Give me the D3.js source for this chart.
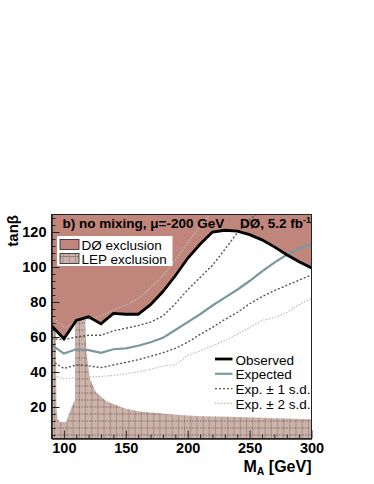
<!DOCTYPE html>
<html>
<head>
<meta charset="utf-8">
<script src="https://cdn.jsdelivr.net/npm/d3@7"></script>
<style>
  html, body { margin: 0; padding: 0; background: #fff; }
  svg { display: block; }
  text { font-family: "Liberation Sans", Arial, Helvetica, sans-serif; }
</style>
</head>
<body>
<svg id="chart" width="374" height="484"></svg>
<script>
// ---------------- data ----------------
const masses   = [90,100,110,120,130,140,150,160,170,180,190,200,210,220,230,240,250,260,270,280,290,300];
const observed = [66.5,59,69.5,71.5,67.5,73.5,73,73,78.5,86,95,105,113,120,121,120.5,118.5,115.5,111.5,107,103,99.5];
const expected = [55.5,50.5,53,52.5,51,53,53.5,55,57,59.5,64,68.5,73,78,82.5,87,92,97.5,102.5,107,110.5,113];
const upper1   = [59,58.5,60,61,61,63.5,65,66.5,68.5,72,79,87,94,101,110,119.5,127,133,null,null,null,null];
const lower1   = [46.5,42,44,43.5,42.5,44,45.5,47,49,51,53.5,57,61.5,65.5,70,74,79,83,86.5,89.5,92.5,95.5];
const upper2   = [72,65.5,68,70,72,75.5,78,82,88,95,104,114,123,132,null,null,null,null,null,null,null,null];
const lower2   = [38.5,36,37,37,37.5,38,39,40,41.5,43.5,44,49.5,52,55,58,61.5,65.5,69.5,71,74,78.5,82];
const lepMass  = [90,90,93.5,94,95,97,102,104,107.5,109,109,117,117.5,118.5,121,126,134,148,161,188,210,234,260,300,300];
const lepTanb  = [2,76,76,20,13,11.5,11.5,16,22,24,76,76,60,50,36,28.5,23.5,19.5,17.5,15.7,14.7,14.5,13.8,13,2];
const xTicks   = [100,150,200,250,300];
const yTicks   = [20,40,60,80,100,120];
const legendTop    = ["DØ exclusion","LEP exclusion"];
const legendBottom = ["Observed","Expected","Exp. ± 1 s.d.","Exp. ± 2 s.d."];

// ---------------- layout ----------------
const L = 51.5, R = 311.5, T = 214.5, B = 438.5;
const x = d3.scaleLinear().domain([90,300]).range([L,R]);
const y = d3.scaleLinear().domain([2,130]).range([B,T]);

const C = {
  d0: "#c0867b",
  lep: "#c9b3ab",
  lepLine: "#8f6459",
  exp: "#7b98a0",
  s1: "#555555",
  s2: "#bdbdbd"
};

const svg = d3.select("#chart");
svg.append("rect").attr("width",374).attr("height",484).attr("fill","#fff");
const defs = svg.append("defs");
defs.append("clipPath").attr("id","plotClip").append("rect")
  .attr("x",L).attr("y",T).attr("width",R-L).attr("height",B-T);

const lepPts = lepMass.map((m,i)=>[m,lepTanb[i]]);
const lepPathGen = d3.line().x(d=>x(d[0])).y(d=>y(d[1]));
defs.append("clipPath").attr("id","lepClip").append("path")
  .attr("d", lepPathGen(lepPts)+"Z");

// hatch pattern for legend swatch
const pat = defs.append("pattern").attr("id","lepPat").attr("patternUnits","userSpaceOnUse")
  .attr("width",6.2).attr("height",7).attr("x",60).attr("y",253);
pat.append("rect").attr("width",6.2).attr("height",7).attr("fill",C.lep);
pat.append("line").attr("x1",3).attr("x2",3).attr("y1",0).attr("y2",7).attr("stroke",C.lepLine).attr("stroke-width",0.7).attr("opacity",0.7);
pat.append("line").attr("x1",0).attr("x2",6.2).attr("y1",3.5).attr("y2",3.5).attr("stroke","#5a3e38").attr("stroke-width",0.7).attr("stroke-dasharray","1.2,1");

const plot = svg.append("g").attr("clip-path","url(#plotClip)");

// LEP exclusion
plot.append("path").attr("d", lepPathGen(lepPts)+"Z").attr("fill",C.lep);
const hatch = plot.append("g").attr("clip-path","url(#lepClip)");
hatch.selectAll("line.v").data(d3.range(92.5,300,5)).join("line")
  .attr("x1",d=>x(d)).attr("x2",d=>x(d)).attr("y1",T).attr("y2",B)
  .attr("stroke",C.lepLine).attr("stroke-width",0.8).attr("opacity",0.6);
hatch.selectAll("line.h").data(d3.range(4,80,4)).join("line")
  .attr("x1",L).attr("x2",R).attr("y1",d=>y(d)).attr("y2",d=>y(d))
  .attr("stroke","#5a3e38").attr("stroke-width",0.8).attr("stroke-dasharray","1.5,1.2").attr("opacity",0.75);

// DØ exclusion
const obsPts = masses.map((m,i)=>[m,observed[i]]);
plot.append("path")
  .attr("d", d3.area().x(d=>x(d[0])).y0(y(130)).y1(d=>y(d[1]))(obsPts))
  .attr("fill",C.d0);

// lines
function series(vals){ return masses.map((m,i)=>[m,vals[i]]); }
const lineGen = d3.line().defined(d=>d[1]!==null).x(d=>x(d[0])).y(d=>y(d[1]));
plot.append("path").attr("d",lineGen(series(upper2))).attr("fill","none").attr("stroke",C.s2).attr("stroke-width",1.2).attr("stroke-dasharray","1.5,1.5");
plot.append("path").attr("d",lineGen(series(lower2))).attr("fill","none").attr("stroke",C.s2).attr("stroke-width",1.2).attr("stroke-dasharray","1.5,1.5");
plot.append("path").attr("d",lineGen(series(upper1))).attr("fill","none").attr("stroke",C.s1).attr("stroke-width",1.4).attr("stroke-dasharray","2,2");
plot.append("path").attr("d",lineGen(series(lower1))).attr("fill","none").attr("stroke",C.s1).attr("stroke-width",1.4).attr("stroke-dasharray","2,2");
plot.append("path").attr("d",lineGen(series(expected))).attr("fill","none").attr("stroke",C.exp).attr("stroke-width",2.2);
plot.append("path").attr("d",lineGen(obsPts)).attr("fill","none").attr("stroke","#000").attr("stroke-width",2.8).attr("stroke-linejoin","miter");

// frame
svg.append("rect").attr("x",L).attr("y",T).attr("width",R-L).attr("height",B-T)
  .attr("fill","none").attr("stroke","#222").attr("stroke-width",1);

// axes
const fontAx = "bold 14.5px 'Liberation Sans', Arial, sans-serif";
const yAxis = svg.append("g").attr("transform",`translate(${L},0)`)
  .call(d3.axisLeft(y).tickValues(yTicks).tickSizeInner(-8).tickSizeOuter(0).tickPadding(5).tickFormat(d3.format("d")));
const yMinor = svg.append("g").attr("transform",`translate(${L},0)`)
  .call(d3.axisLeft(y).tickValues(d3.range(4,130,4).filter(v=>v%20!==0)).tickSizeInner(-4).tickSizeOuter(0).tickFormat(""));
const xAxis = svg.append("g").attr("transform",`translate(0,${B})`)
  .call(d3.axisBottom(x).tickValues(xTicks).tickSizeInner(-8).tickSizeOuter(0).tickPadding(4).tickFormat(d3.format("d")));
const xMinor = svg.append("g").attr("transform",`translate(0,${B})`)
  .call(d3.axisBottom(x).tickValues(d3.range(90,300,10).filter(v=>v%50!==0)).tickSizeInner(-4).tickSizeOuter(0).tickFormat(""));
[yAxis,yMinor,xAxis,xMinor].forEach(g=>{
  g.select(".domain").attr("stroke","#222");
  g.selectAll(".tick line").attr("stroke","#222");
  g.selectAll("text").style("font",fontAx).attr("fill","#000");
});

// axis titles
svg.append("text").attr("transform","translate(18,215) rotate(-90)")
  .attr("text-anchor","end").style("font","bold 15px 'Liberation Sans', Arial, sans-serif").text("tanβ");
const xt = svg.append("text").attr("x",R).attr("y",471.5).attr("text-anchor","end")
  .style("font","bold 16px 'Liberation Sans', Arial, sans-serif");
xt.append("tspan").text("M");
xt.append("tspan").attr("font-size","10.5px").attr("dy",3.5).text("A");
xt.append("tspan").attr("dy",-3.5).text(" [GeV]");

// header texts
svg.append("text").attr("x",62.5).attr("y",228)
  .style("font","bold 13.5px 'Liberation Sans', Arial, sans-serif").text("b) no mixing, μ=-200 GeV");
const d0t = svg.append("text").attr("x",R-0.5).attr("y",228).attr("text-anchor","end")
  .style("font","bold 13.5px 'Liberation Sans', Arial, sans-serif");
d0t.append("tspan").text("DØ, 5.2 fb");
d0t.append("tspan").attr("font-size","9px").attr("dy",-5.5).text("-1");

// top-left legend
svg.append("rect").attr("x",57).attr("y",236).attr("width",115.5).attr("height",30).attr("fill","#fff");
svg.append("rect").attr("x",60).attr("y",239.5).attr("width",19).attr("height",10).attr("fill",C.d0).attr("stroke","#222").attr("stroke-width",0.8);
svg.append("rect").attr("x",60).attr("y",253.5).attr("width",19).attr("height",10).attr("fill","url(#lepPat)").attr("stroke","#222").attr("stroke-width",0.8);
svg.selectAll("text.lt").data(legendTop).join("text").attr("class","lt")
  .attr("x",81.5).attr("y",(d,i)=>249.5+i*14.5)
  .style("font","13.5px 'Liberation Sans', Arial, sans-serif").text(d=>d);

// bottom-right legend
const styles = [
  {c:"#000", w:2.8, da:null},
  {c:C.exp, w:2.2, da:null},
  {c:C.s1, w:1.4, da:"2,2"},
  {c:C.s2, w:1.2, da:"1.5,1.5"}
];
const lg = svg.append("g");
legendBottom.forEach((t,i)=>{
  const yy = 359 + i*14.8;
  lg.append("line").attr("x1",215).attr("x2",232.5).attr("y1",yy).attr("y2",yy)
    .attr("stroke",styles[i].c).attr("stroke-width",styles[i].w).attr("stroke-dasharray",styles[i].da);
  lg.append("text").attr("x",235.5).attr("y",yy+5.5)
    .style("font","13.5px 'Liberation Sans', Arial, sans-serif").text(t);
});
</script>
</body>
</html>
